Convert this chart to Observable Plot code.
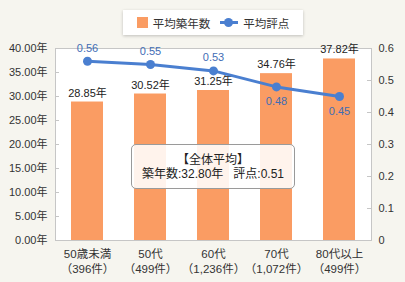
<!DOCTYPE html>
<html>
<head>
<meta charset="utf-8">
<script src="https://cdn.jsdelivr.net/npm/d3@7"></script>
<script src="https://cdn.jsdelivr.net/npm/@observablehq/plot@0.6"></script>
<style>
  html, body { margin: 0; padding: 0; background: #f6f5ef; }
  #wrap { position: relative; width: 405px; height: 282px; background: #f6f5ef; overflow: hidden;
    font-family: "Liberation Sans", "Noto Sans CJK JP", sans-serif; color: #333; }
  #legend { position: absolute; left: 123px; top: 10px; width: 180px; height: 25px; background: #fff;
    box-shadow: 0 1px 3px rgba(0,0,0,0.22); display: flex; align-items: center; justify-content: center;
    font-size: 11.5px; color: #333; }
  #legend .sw { display: inline-block; width: 11px; height: 11px; background: #fa9c63; margin-right: 5px; }
  #legend .ln { display: inline-block; position: relative; width: 18px; height: 11px; margin: 0 5px 0 10px; }
  #legend .ln::before { content: ""; position: absolute; left: 0; right: 0; top: 4px; height: 3px; background: #4a7fd0; }
  #legend .ln::after { content: ""; position: absolute; left: 4px; top: 1px; width: 9px; height: 9px; border-radius: 50%; background: #4a7fd0; }
  #note { position: absolute; left: 131px; top: 144px; width: 162px; height: 42px; border: 1px solid #9a9a9a;
    border-radius: 5px; background: rgba(255,255,255,0.88); text-align: center; font-size: 12px; color: #222; line-height: 14px;
    box-sizing: content-box; padding-top: 1px; }
  #note div:first-child { margin-top: 7px; }
</style>
</head>
<body>
<div id="wrap">
  <div id="chart"></div>
  <div id="legend"><span class="sw"></span>平均築年数<span class="ln"></span>平均評点</div>
  <div id="note"><div>【全体平均】</div><div>築年数:32.80年&nbsp;&nbsp;&nbsp;評点:0.51</div></div>
</div>
<script>
const categories = ["50歳未満", "50代", "60代", "70代", "80代以上"];
const counts = ["396件", "499件", "1,236件", "1,072件", "499件"];
const avgYears = [28.85, 30.52, 31.25, 34.76, 37.82];
const avgScores = [0.56, 0.55, 0.53, 0.48, 0.45];
const leftTicks = [0, 5, 10, 15, 20, 25, 30, 35, 40];
const rightTicks = [0, 0.1, 0.2, 0.3, 0.4, 0.5, 0.6];
const scoreLabelBelow = [false, false, false, true, true];

const yMax = 40, sMax = 0.6;
const toY = s => s * yMax / sMax;

const rows = categories.map((c, i) => ({
  cat: c, count: counts[i], years: avgYears[i], score: avgScores[i], sy: toY(avgScores[i]), below: scoreLabelBelow[i]
}));

const W = 405, H = 282, mL = 55, mR = 34, mT = 48, mB = 42;
const innerW = W - mL - mR;
const barColor = "#fa9c63", lineColor = "#4a7fd0", labelBlue = "#3f6db5";

const chart = Plot.plot({
  width: W, height: H,
  marginLeft: mL, marginRight: mR, marginTop: mT, marginBottom: mB,
  style: { background: "transparent", fontSize: "11px", fontFamily: "'Liberation Sans', 'Noto Sans CJK JP', sans-serif", color: "#333" },
  x: { domain: categories, paddingInner: 0.49, paddingOuter: 0.245, label: null },
  y: { domain: [0, yMax], label: null },
  marks: [
    Plot.frame({ fill: "white", stroke: "#c6c6c6" }),
    Plot.barY(rows, { x: "cat", y: "years", fill: barColor }),
    Plot.tickY(leftTicks.slice(1), { y: d => d, stroke: "#c6c6c6", insetRight: innerW - 4 }),
    Plot.tickY(rightTicks.slice(1).map(toY), { y: d => d, stroke: "#c6c6c6", insetLeft: innerW - 4 }),
    Plot.axisY({ anchor: "left", ticks: leftTicks, tickSize: 0, tickPadding: 8, fill: "#333",
      tickFormat: d => d.toFixed(2) + "年" }),
    Plot.axisY(rightTicks.map(toY), { anchor: "right", tickSize: 0, tickPadding: 7, fill: "#333",
      tickFormat: d => { const s = Math.round(d * sMax / yMax * 10) / 10; return s === 0 ? "0" : s.toFixed(1); } }),
    Plot.axisX({ tickSize: 0, tickPadding: 7, lineHeight: 1.3, fill: "#333", fontSize: 11.5,
      tickFormat: d => d + "\n（" + counts[categories.indexOf(d)] + "）" }),
    Plot.text(rows, { x: "cat", y: "years", text: d => d.years.toFixed(2) + "年", dy: -9, fill: "#222", fontSize: 11 }),
    Plot.line(rows, { x: "cat", y: "sy", stroke: lineColor, strokeWidth: 3 }),
    Plot.dot(rows, { x: "cat", y: "sy", fill: lineColor, r: 4.5 }),
    Plot.text(rows, { x: "cat", y: "sy", text: d => d.score.toFixed(2), fill: labelBlue, fontSize: 11,
      filter: d => !d.below, dy: -13 }),
    Plot.text(rows, { x: "cat", y: "sy", text: d => d.score.toFixed(2), fill: labelBlue, fontSize: 11,
      filter: d => d.below, dy: 15 })
  ]
});
document.getElementById("chart").appendChild(chart);
</script>
</body>
</html>
